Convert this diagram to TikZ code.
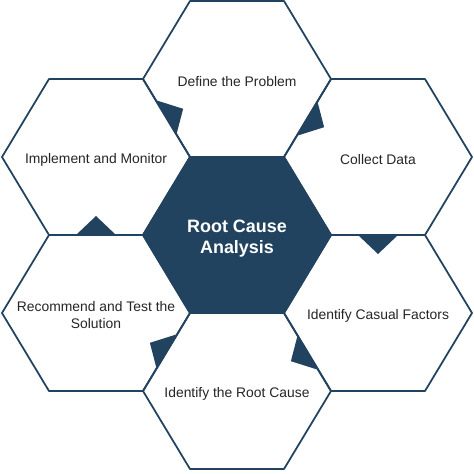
\documentclass[tikz,border=0pt]{standalone}
\usepackage{fontspec}
\setmainfont{Liberation Sans}
\usetikzlibrary{calc}
\definecolor{rcanavy}{RGB}{33,67,95}
\definecolor{rcatext}{RGB}{38,38,38}
\tikzset{
  hexline/.style={draw=rcanavy, line width=1pt, line join=round},
  steptext/.style={text=rcatext, font=\fontsize{7.9}{9.7}\selectfont, align=center, yshift=-1.4pt},
  hubtext/.style={text=white, font=\fontsize{10.2}{12}\selectfont\bfseries, align=center, yshift=-2.2pt}
}
\begin{document}
\begin{tikzpicture}
    \fill[white] (-4.74,-4.76) rectangle (4.74,4.70);
    \coordinate (h-hub) at (0,0);
    \coordinate (h-def) at (0,3.12);
    \coordinate (h-col) at (2.82,1.56);
    \coordinate (h-fac) at (2.82,-1.56);
    \coordinate (h-roo) at (0,-3.12);
    \coordinate (h-rec) at (-2.82,-1.56);
    \coordinate (h-imp) at (-2.82,1.56);
    \fill[rcanavy] (h-hub) ++(-1.88,0) -- ++(0.94,1.56) -- ++(1.88,0) -- ++(0.94,-1.56) -- ++(-0.94,-1.56) -- ++(-1.88,0) -- cycle;
    \node[hubtext] (hub) at (h-hub) {Root Cause\\Analysis};
    \node[steptext] (def) at (h-def) {Define the Problem};
    \node[steptext] (col) at (h-col) {Collect Data};
    \node[steptext] (fac) at (h-fac) {Identify Casual Factors};
    \node[steptext] (roo) at (h-roo) {Identify the Root Cause};
    \node[steptext] (rec) at (h-rec) {Recommend and Test the\\Solution};
    \node[steptext] (imp) at (h-imp) {Implement and Monitor};
    \foreach \p in {hub,def,col,fac,roo,rec,imp}
        \draw[hexline] (h-\p) ++(-1.88,0) -- ++(0.94,1.56) -- ++(1.88,0) -- ++(0.94,-1.56) -- ++(-0.94,-1.56) -- ++(-1.88,0) -- cycle;
    \foreach \a/\b in {def/col,col/fac,fac/roo,roo/rec,rec/imp,imp/def}
        \fill[rcanavy] ($(h-\a)!0.5!(h-\b)!0.4cm!90:(h-\b)$)
            -- ($(h-\a)!0.5!(h-\b)!0.38cm!(h-\b)$)
            -- ($(h-\a)!0.5!(h-\b)!0.4cm!-90:(h-\b)$) -- cycle;
\end{tikzpicture}
\end{document}
